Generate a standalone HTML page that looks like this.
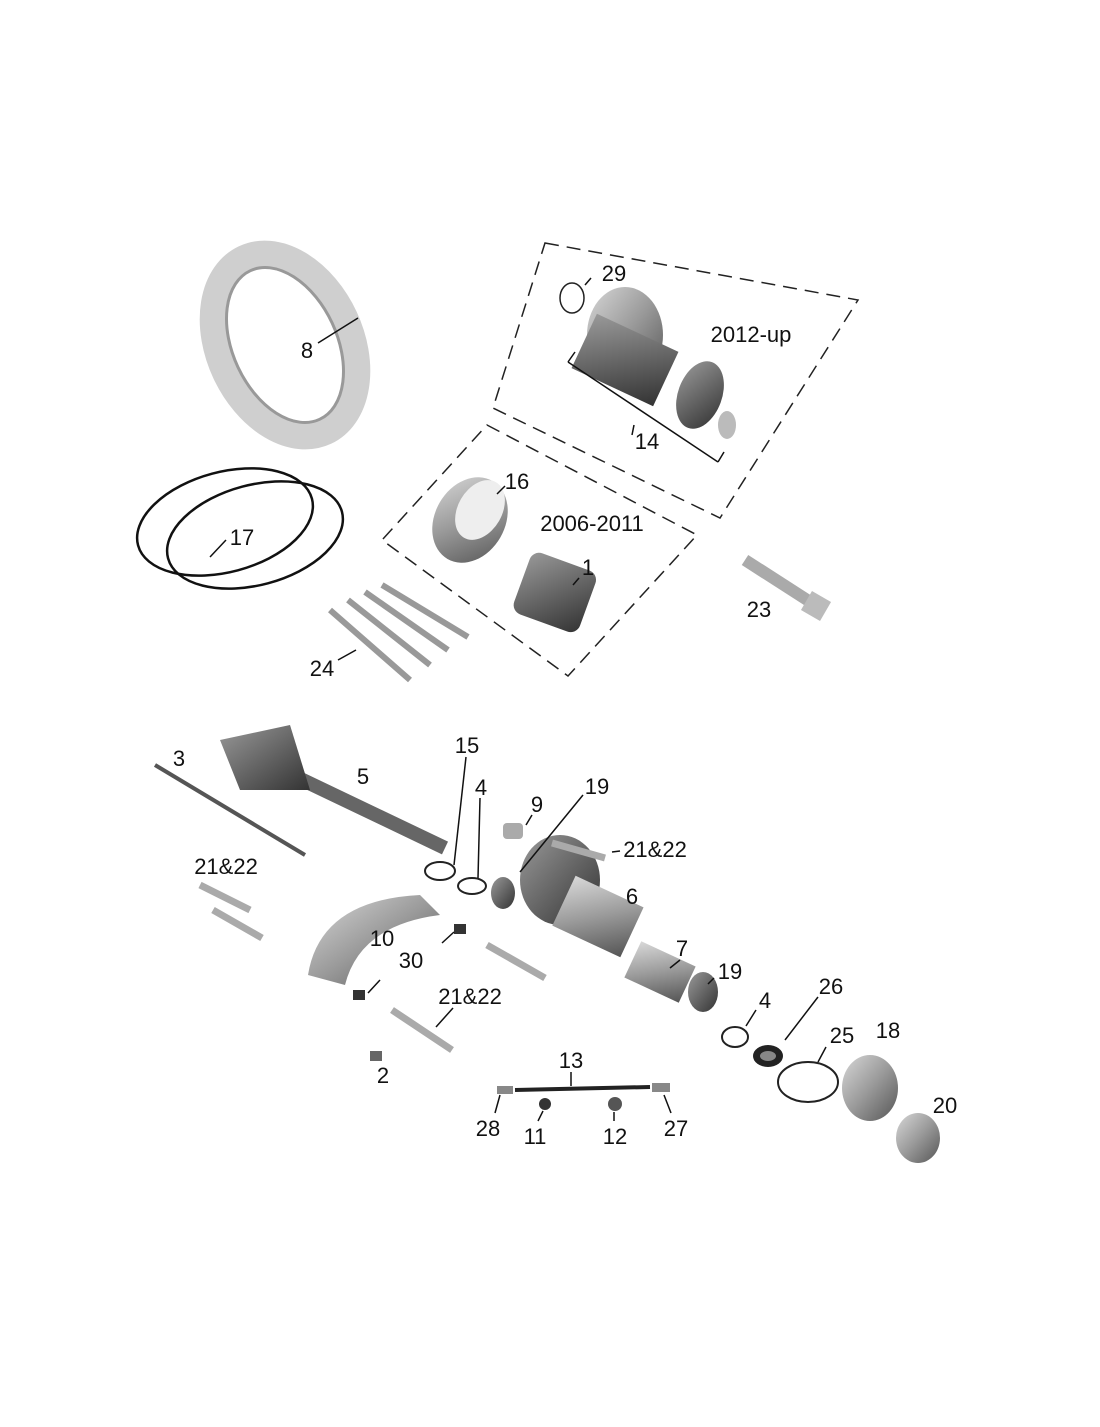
<!DOCTYPE html>
<html><head><style>
html,body{margin:0;padding:0;background:#fff}
svg text{font-family:"Liberation Sans",sans-serif;font-size:22px;fill:#111}
</style></head><body>
<svg width="1100" height="1422" viewBox="0 0 1100 1422" xmlns="http://www.w3.org/2000/svg">
<defs>
<linearGradient id="g" x1="0" y1="0" x2="1" y2="1"><stop offset="0" stop-color="#d8d8d8"/><stop offset="0.5" stop-color="#9a9a9a"/><stop offset="1" stop-color="#555"/></linearGradient>
<linearGradient id="d" x1="0" y1="0" x2="1" y2="1"><stop offset="0" stop-color="#999"/><stop offset="1" stop-color="#333"/></linearGradient>
</defs>
<!-- dashed frames -->
<polygon points="545,243 858,300 720,518 493,408" fill="none" stroke="#222" stroke-width="1.5" stroke-dasharray="14,8"/>
<polygon points="487,425 697,535 568,676 382,540" fill="none" stroke="#222" stroke-width="1.5" stroke-dasharray="14,8"/>
<!-- part 8 ring -->
<ellipse cx="285" cy="345" rx="65" ry="95" transform="rotate(-25 285 345)" fill="none" stroke="#cfcfcf" stroke-width="28"/>
<ellipse cx="285" cy="345" rx="52" ry="82" transform="rotate(-25 285 345)" fill="none" stroke="#999" stroke-width="3"/>
<!-- 17 o-rings -->
<ellipse cx="225" cy="522" rx="90" ry="50" transform="rotate(-15 225 522)" fill="none" stroke="#111" stroke-width="2.5"/>
<ellipse cx="255" cy="535" rx="90" ry="50" transform="rotate(-15 255 535)" fill="none" stroke="#111" stroke-width="2.5"/>
<!-- 29 -->
<ellipse cx="572" cy="298" rx="12" ry="15" fill="none" stroke="#222" stroke-width="1.5"/>
<!-- 14 clutch hub -->
<ellipse cx="625" cy="335" rx="38" ry="48" fill="url(#g)"/>
<rect x="580" y="330" width="90" height="60" transform="rotate(25 625 360)" fill="url(#d)"/>
<ellipse cx="700" cy="395" rx="22" ry="35" transform="rotate(20 700 395)" fill="url(#d)"/>
<ellipse cx="727" cy="425" rx="9" ry="14" fill="#bbb"/>
<polyline points="568,362 718,462" fill="none" stroke="#111" stroke-width="1.5"/>
<line x1="568" y1="362" x2="575" y2="352" stroke="#111" stroke-width="1.5"/>
<line x1="718" y1="462" x2="724" y2="452" stroke="#111" stroke-width="1.5"/>
<line x1="634" y1="425" x2="632" y2="435" stroke="#111" stroke-width="1.5"/>
<!-- 16 -->
<ellipse cx="470" cy="520" rx="35" ry="45" transform="rotate(30 470 520)" fill="url(#g)"/>
<ellipse cx="480" cy="510" rx="22" ry="32" transform="rotate(30 480 510)" fill="#eee"/>
<!-- 1 -->
<rect x="520" y="560" width="70" height="65" rx="10" transform="rotate(20 555 592)" fill="url(#d)"/>
<!-- 23 bolt -->
<line x1="745" y1="560" x2="815" y2="605" stroke="#aaa" stroke-width="12"/>
<rect x="805" y="595" width="22" height="22" transform="rotate(30 816 606)" fill="#bbb"/>
<!-- 24 bolts -->
<g stroke="#999" stroke-width="6">
<line x1="330" y1="610" x2="410" y2="680"/><line x1="348" y1="600" x2="430" y2="665"/>
<line x1="365" y1="592" x2="448" y2="650"/><line x1="382" y1="585" x2="468" y2="637"/>
</g>
<!-- 3 rod -->
<line x1="155" y1="765" x2="305" y2="855" stroke="#555" stroke-width="4"/>
<!-- 5 shaft -->
<line x1="240" y1="750" x2="445" y2="848" stroke="#666" stroke-width="14"/>
<polygon points="220,740 290,725 310,790 240,790" fill="url(#d)"/>
<!-- 15, 4 rings -->
<ellipse cx="440" cy="871" rx="15" ry="9" fill="none" stroke="#222" stroke-width="2"/>
<ellipse cx="472" cy="886" rx="14" ry="8" fill="none" stroke="#222" stroke-width="2"/>
<!-- 9 -->
<rect x="503" y="823" width="20" height="16" rx="4" fill="#aaa"/>
<!-- 6 gear -->
<ellipse cx="560" cy="880" rx="40" ry="45" fill="url(#d)"/>
<rect x="560" y="890" width="75" height="55" transform="rotate(25 600 918)" fill="url(#g)"/>
<ellipse cx="503" cy="893" rx="12" ry="16" fill="url(#d)"/>
<!-- bolts 21&22 -->
<g stroke="#aaa" stroke-width="7">
<line x1="552" y1="843" x2="605" y2="858"/><line x1="200" y1="885" x2="250" y2="910"/>
<line x1="213" y1="910" x2="262" y2="938"/><line x1="487" y1="945" x2="545" y2="978"/>
<line x1="392" y1="1010" x2="452" y2="1050"/>
</g>
<!-- 10 -->
<path d="M308,975 Q320,900 420,895 L440,915 Q360,925 345,985 Z" fill="url(#g)"/>
<!-- 30, 2 -->
<rect x="454" y="924" width="12" height="10" fill="#333"/>
<rect x="353" y="990" width="12" height="10" fill="#333"/>
<rect x="370" y="1051" width="12" height="10" fill="#666"/>
<!-- 7 -->
<rect x="630" y="952" width="60" height="40" transform="rotate(25 660 972)" fill="url(#g)"/>
<ellipse cx="703" cy="992" rx="15" ry="20" fill="url(#d)"/>
<!-- 4, 26, 25, 18, 20 -->
<ellipse cx="735" cy="1037" rx="13" ry="10" fill="none" stroke="#222" stroke-width="2"/>
<ellipse cx="768" cy="1056" rx="15" ry="11" fill="#222"/><ellipse cx="768" cy="1056" rx="8" ry="5" fill="#888"/>
<ellipse cx="808" cy="1082" rx="30" ry="20" fill="none" stroke="#222" stroke-width="2"/>
<ellipse cx="870" cy="1088" rx="28" ry="33" fill="url(#g)"/>
<ellipse cx="918" cy="1138" rx="22" ry="25" fill="url(#g)"/>
<!-- 13 assembly -->
<line x1="515" y1="1090" x2="650" y2="1087" stroke="#222" stroke-width="4"/>
<rect x="497" y="1086" width="16" height="8" fill="#888"/>
<rect x="652" y="1083" width="18" height="9" fill="#888"/>
<circle cx="545" cy="1104" r="6" fill="#333"/><circle cx="615" cy="1104" r="7" fill="#555"/>
<!-- leader lines -->
<g stroke="#111" stroke-width="1.5">
<line x1="591" y1="278" x2="585" y2="285"/><line x1="318" y1="343" x2="358" y2="318"/>
<line x1="505" y1="486" x2="497" y2="494"/><line x1="210" y1="557" x2="226" y2="540"/>
<line x1="579" y1="578" x2="573" y2="585"/><line x1="338" y1="660" x2="356" y2="650"/>
<line x1="466" y1="757" x2="454" y2="865"/><line x1="480" y1="798" x2="478" y2="878"/>
<line x1="532" y1="815" x2="526" y2="825"/><line x1="583" y1="795" x2="520" y2="872"/>
<line x1="620" y1="851" x2="612" y2="852"/><line x1="680" y1="960" x2="670" y2="968"/>
<line x1="714" y1="978" x2="708" y2="984"/><line x1="442" y1="943" x2="454" y2="932"/>
<line x1="380" y1="980" x2="368" y2="993"/><line x1="453" y1="1008" x2="436" y2="1027"/>
<line x1="756" y1="1010" x2="746" y2="1026"/><line x1="818" y1="997" x2="785" y2="1040"/>
<line x1="826" y1="1047" x2="818" y2="1062"/><line x1="571" y1="1072" x2="571" y2="1086"/>
<line x1="495" y1="1113" x2="500" y2="1095"/><line x1="538" y1="1121" x2="543" y2="1111"/>
<line x1="614" y1="1121" x2="614" y2="1112"/><line x1="671" y1="1113" x2="664" y2="1095"/>
</g>
<!-- labels -->
<text x="614" y="281" text-anchor="middle">29</text>
<text x="751" y="342" text-anchor="middle">2012-up</text>
<text x="307" y="358" text-anchor="middle">8</text>
<text x="647" y="449" text-anchor="middle">14</text>
<text x="517" y="489" text-anchor="middle">16</text>
<text x="592" y="531" text-anchor="middle">2006-2011</text>
<text x="242" y="545" text-anchor="middle">17</text>
<text x="588" y="575" text-anchor="middle">1</text>
<text x="759" y="617" text-anchor="middle">23</text>
<text x="322" y="676" text-anchor="middle">24</text>
<text x="467" y="753" text-anchor="middle">15</text>
<text x="179" y="766" text-anchor="middle">3</text>
<text x="363" y="784" text-anchor="middle">5</text>
<text x="481" y="795" text-anchor="middle">4</text>
<text x="597" y="794" text-anchor="middle">19</text>
<text x="537" y="812" text-anchor="middle">9</text>
<text x="655" y="857" text-anchor="middle">21&amp;22</text>
<text x="226" y="874" text-anchor="middle">21&amp;22</text>
<text x="632" y="904" text-anchor="middle">6</text>
<text x="382" y="946" text-anchor="middle">10</text>
<text x="682" y="956" text-anchor="middle">7</text>
<text x="411" y="968" text-anchor="middle">30</text>
<text x="730" y="979" text-anchor="middle">19</text>
<text x="831" y="994" text-anchor="middle">26</text>
<text x="470" y="1004" text-anchor="middle">21&amp;22</text>
<text x="765" y="1008" text-anchor="middle">4</text>
<text x="888" y="1038" text-anchor="middle">18</text>
<text x="842" y="1043" text-anchor="middle">25</text>
<text x="571" y="1068" text-anchor="middle">13</text>
<text x="383" y="1083" text-anchor="middle">2</text>
<text x="945" y="1113" text-anchor="middle">20</text>
<text x="488" y="1136" text-anchor="middle">28</text>
<text x="676" y="1136" text-anchor="middle">27</text>
<text x="535" y="1144" text-anchor="middle">11</text>
<text x="615" y="1144" text-anchor="middle">12</text>
</svg>
</body></html>
